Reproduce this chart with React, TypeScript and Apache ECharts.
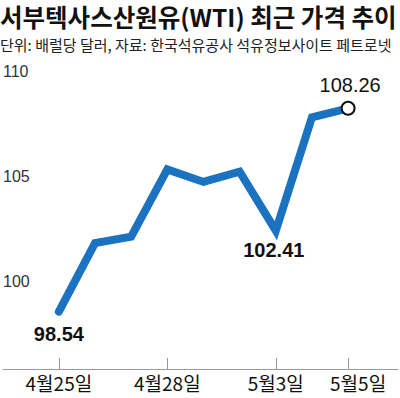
import React, { useEffect, useRef } from "react";
import * as echarts from "echarts";

const dates = ["4월25일", "4월26일", "4월27일", "4월28일", "4월29일", "5월2일", "5월3일", "5월4일", "5월5일"];
const prices = [98.54, 101.82, 102.12, 105.34, 104.74, 105.23, 102.41, 107.83, 108.26];
const xTickIdx = [0, 3, 6, 8];
const yTicks = [100, 105, 110];
const titleText = "서부텍사스산원유(WTI) 최근 가격 추이";
const subText = "단위: 배럴당 달러, 자료: 한국석유공사 석유정보사이트 페트로넷";

export default function App() {
  const ref = useRef<HTMLDivElement>(null);
  useEffect(() => {
    const chart = echarts.init(ref.current!, null, { renderer: "svg" });
    const data = prices.map((v, i) => [i, v]);
    const last = prices.length - 1;
    const labelFor = (i: number) => {
      if (i === 0) return { show: true, position: "bottom", distance: 12, fontSize: 20, fontWeight: "bold" };
      if (i === 6) return { show: true, position: "bottom", distance: 9, fontSize: 20, fontWeight: "bold", offset: [-2, 0] };
      if (i === last) return { show: true, position: "top", distance: 6, fontSize: 20, fontWeight: "normal", offset: [2, 0] };
      return { show: false };
    };
    chart.setOption({
      animation: false,
      backgroundColor: "#fff",
      graphic: [
        {
          type: "text", left: 0, top: 4,
          style: { text: titleText, fontSize: 24.5, fontWeight: "bold", fill: "#111", fontFamily: "Noto Sans CJK KR" },
        },
        {
          type: "text", left: 0, top: 37,
          style: { text: subText, fontSize: 15, fill: "#222", fontFamily: "Noto Sans CJK KR" },
        },
      ],
      grid: { left: 2, right: 2, top: 30, bottom: 29 },
      xAxis: {
        type: "value",
        min: -1.545,
        max: 9.38,
        splitLine: { show: false },
        axisLine: { show: true, lineStyle: { color: "#999", width: 1 } },
        axisTick: { show: true, inside: true, length: 11, customValues: xTickIdx, lineStyle: { color: "#999" } },
        axisLabel: {
          customValues: xTickIdx,
          margin: 4,
          fontSize: 19,
          color: "#111",
          fontFamily: "Noto Sans CJK KR",
          formatter: (v: number) => (v === 8 ? "{r|" + dates[v] + "}" : dates[v] ?? ""),
          rich: { r: { fontSize: 19, color: "#111", fontFamily: "Noto Sans CJK KR", padding: [0, 0, 0, 20] } },
        },
      },
      yAxis: {
        type: "value",
        min: 95.8,
        max: 112,
        splitLine: { show: false },
        axisLine: { show: false },
        axisTick: { show: false },
        axisLabel: {
          customValues: yTicks,
          align: "left",
          margin: 0,
          fontSize: 16,
          color: "#333",
          fontFamily: "Liberation Sans",
          padding: [6, 0, 0, 0],
        },
      },
      series: [
        {
          type: "line",
          data: data.map((d, i) => ({
            value: d,
            symbol: "circle",
            symbolSize: i === last ? 13 : 1,
            itemStyle: i === last ? { color: "#fff", borderColor: "#111", borderWidth: 2 } : { color: "#1a72c0", borderWidth: 0 },
            label: { ...labelFor(i), color: "#111", fontFamily: "Liberation Sans", formatter: (p: any) => p.value[1].toFixed(2) },
          })),
          lineStyle: { color: "#1a72c0", width: 8, cap: "round", join: "miter" },
          showSymbol: true,
          showAllSymbol: true,
          z: 3,
        },
      ],
    });
    return () => chart.dispose();
  }, []);
  return <div ref={ref} style={{ width: 400, height: 398, position: "absolute", left: 0, top: 0 }} />;
}
